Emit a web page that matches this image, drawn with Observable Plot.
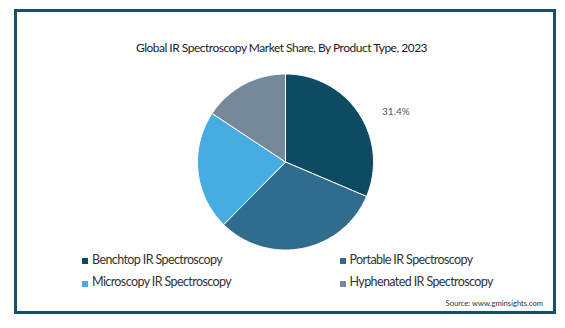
<!DOCTYPE html>
<html>
<head>
<meta charset="utf-8">
<script src="https://cdn.jsdelivr.net/npm/d3@7"></script>
<script src="https://cdn.jsdelivr.net/npm/@observablehq/plot@0.6"></script>
<style>
  html, body { margin: 0; padding: 0; background: #fff; }
  body { width: 565px; height: 328px; position: relative; overflow: hidden; font-family: Lato, "Open Sans", sans-serif; }
  #frame { position: absolute; left: 14px; top: 9px; width: 536px; height: 299px; border: 3px solid #17506a; box-sizing: content-box; }
  #chart { position: absolute; left: 0; top: 0; }
  .t { position: absolute; line-height: 1; white-space: nowrap; }
  #title { left: 0; width: 563px; text-align: center; top: 41.5px; font-size: 12px; letter-spacing: -0.5px; color: #222; }
  .leg { font-size: 12.5px; letter-spacing: -0.6px; color: #333; }
  .sw { position: absolute; width: 6px; height: 6px; }
  #source { right: 22px; top: 299.5px; font-size: 7.6px; color: #333; }
</style>
</head>
<body>
<div id="frame"></div>
<div id="chart"></div>
<div id="title" class="t">Global IR Spectroscopy Market Share, By Product Type, 2023</div>
<div id="legend"></div>
<div id="source" class="t">Source: www.gminsights.com</div>
<script>
const categories = ["Benchtop IR Spectroscopy", "Portable IR Spectroscopy", "Microscopy IR Spectroscopy", "Hyphenated IR Spectroscopy"];
const shares = [31.4, 31.0, 21.9, 15.7];
const colors = ["#0d4b62", "#2f6c8d", "#47ade0", "#76889b"];
const labelText = ["31.4%", "", "", ""];

const total = d3.sum(shares);
let acc = 0;
const slices = categories.map((name, i) => {
  const a0 = acc / total * 2 * Math.PI;
  acc += shares[i];
  const a1 = acc / total * 2 * Math.PI;
  return {name, a0, a1, value: shares[i], label: labelText[i]};
});

const pts = [];
for (const s of slices) {
  pts.push({name: s.name, x: 0, y: 0});
  const n = Math.max(2, Math.ceil((s.a1 - s.a0) / (Math.PI / 180)));
  for (let k = 0; k <= n; k++) {
    const a = s.a0 + (s.a1 - s.a0) * k / n;
    pts.push({name: s.name, x: Math.sin(a), y: Math.cos(a)});
  }
  pts.push({name: s.name, x: 0, y: 0});
}

const labels = slices.filter(s => s.label).map(s => {
  const m = (s.a0 + s.a1) / 2;
  return {text: s.label, x: 1.3 * Math.sin(m), y: 1.3 * Math.cos(m)};
});

const plot = Plot.plot({
  width: 565,
  height: 328,
  margin: 0,
  style: {background: "transparent", overflow: "visible"},
  x: {domain: [-1, 1], range: [197, 373], axis: null},
  y: {domain: [-1, 1], range: [249.5, 73.5], axis: null},
  color: {domain: categories, range: colors},
  marks: [
    Plot.line(pts, {x: "x", y: "y", z: "name", fill: "name", stroke: "#ffffff", strokeWidth: 1, curve: "linear"}),
    Plot.text(labels, {x: "x", y: "y", text: "text", dx: 15, dy: 13, fontSize: 10, fill: "#555", fontFamily: "Lato, sans-serif"})
  ]
});
document.getElementById("chart").appendChild(plot);

const legend = document.getElementById("legend");
const legPos = [
  {sx: 82, tx: 92, top: 253.5, sy: 258},
  {sx: 339.5, tx: 349.5, top: 253.5, sy: 258},
  {sx: 82, tx: 92, top: 276, sy: 280.5},
  {sx: 339.5, tx: 349.5, top: 276, sy: 280.5}
];
categories.forEach((c, i) => {
  const p = legPos[i];
  const sw = document.createElement("div");
  sw.className = "sw";
  sw.style.left = p.sx + "px"; sw.style.top = p.sy + "px"; sw.style.background = colors[i];
  legend.appendChild(sw);
  const t = document.createElement("div");
  t.className = "t leg";
  t.style.left = p.tx + "px"; t.style.top = p.top + "px";
  t.textContent = c;
  legend.appendChild(t);
});
</script>
</body>
</html>
